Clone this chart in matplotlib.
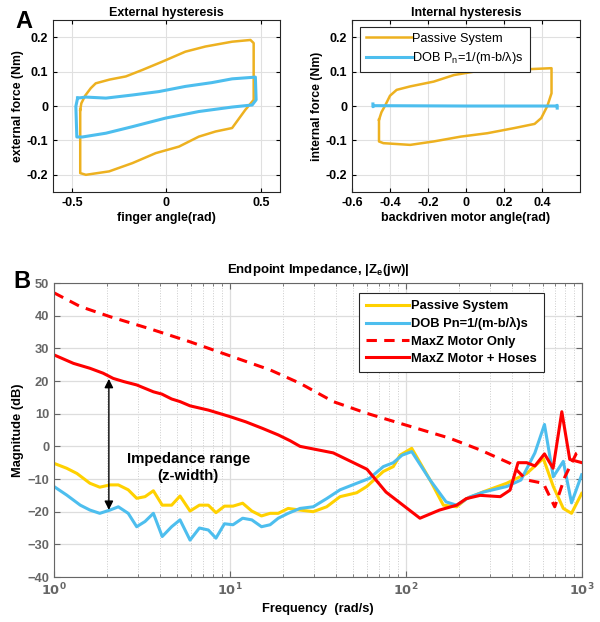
import matplotlib.pyplot as plt

plt.rcParams['font.family'] = ['Liberation Sans', 'DejaVu Sans']
plt.rcParams['font.weight'] = 'bold'

ORANGE = '#EDB120'
BLUE = '#4DBEEE'
YELLOW = '#FFD100'
RED = '#FF0000'

# --- A: hysteresis loops (angle rad, force Nm) ---
ext_passive_x = [-0.456, -0.45, -0.43, -0.40, -0.374, -0.30, -0.215, -0.127, -0.022, 0.10, 0.206,
                 0.347, 0.444, 0.461, 0.461, 0.417, 0.347, 0.26, 0.171, 0.066, -0.057, -0.18,
                 -0.303, -0.426, -0.456, -0.456]
ext_passive_y = [-0.011, 0.008, 0.03, 0.052, 0.066, 0.077, 0.086, 0.105, 0.129, 0.158, 0.173,
                 0.187, 0.192, 0.183, 0.018, -0.011, -0.064, -0.074, -0.089, -0.118, -0.137, -0.166,
                 -0.19, -0.20, -0.195, -0.011]
ext_dob_x = [-0.47, -0.426, -0.32, -0.18, -0.04, 0.10, 0.24, 0.347, 0.47, 0.474, 0.453,
             0.347, 0.171, -0.004, -0.18, -0.32, -0.444, -0.474, -0.479, -0.47]
ext_dob_y = [0.023, 0.026, 0.023, 0.032, 0.042, 0.057, 0.068, 0.079, 0.084, 0.018, 0.003,
             -0.003, -0.016, -0.035, -0.06, -0.079, -0.09, -0.09, -0.001, 0.023]

int_passive_x = [-0.458, -0.445, -0.427, -0.40, -0.365, -0.294, -0.17, -0.064, 0.042, 0.184,
                 0.326, 0.45, 0.45, 0.428, 0.396, 0.361, 0.255, 0.113, -0.028, -0.17, -0.294,
                 -0.435, -0.458, -0.458]
int_passive_y = [-0.04, -0.018, 0.0, 0.03, 0.047, 0.057, 0.071, 0.09, 0.10, 0.105,
                 0.107, 0.11, 0.037, 0.0, -0.035, -0.052, -0.064, -0.079, -0.089, -0.103, -0.113,
                 -0.108, -0.103, -0.04]
int_dob_x = [-0.49, -0.49, -0.48, 0.0, 0.47, 0.48, 0.48]
int_dob_y = [0.006, -0.002, 0.001, 0.0, 0.0, 0.002, -0.006]

# --- B: endpoint impedance (rad/s, dB) ---
f_passive = [1, 1.18, 1.35, 1.6, 1.82, 2.08, 2.32, 2.64, 2.95, 3.29, 3.67, 4.12, 4.66, 5.2, 5.93,
             6.7, 7.53, 8.32, 9.3, 10.4, 11.8, 13.3, 15.1, 16.9, 18.8, 21.4, 25, 29.7, 35.4, 42.2,
             52.5, 59.8, 74.3, 84.7, 92.5, 107.8, 137, 163, 194, 221, 275, 373, 485, 603, 687,
             783, 872, 996]
mag_passive = [-5.2, -6.7, -8.3, -11.3, -12.5, -11.8, -11.8, -13.3, -15.9, -15.4, -13.6, -18.0,
               -18.0, -15.2, -19.8, -18.0, -18.0, -20.3, -18.3, -18.3, -17.4, -19.8, -21.3, -20.5,
               -20.5, -19.0, -19.5, -20.0, -18.5, -15.4, -14.2, -12.3, -7.7, -6.2, -2.7, -0.6,
               -10.3, -18.0, -18.5, -16.0, -13.9, -11.3, -8.3, -3.7, -12.3, -19.0, -20.5, -14.4]

f_dob = [1, 1.18, 1.41, 1.6, 1.82, 2.08, 2.32, 2.64, 2.95, 3.29, 3.67, 4.12, 4.66, 5.2, 5.93,
         6.7, 7.53, 8.32, 9.3, 10.4, 11.8, 13.3, 15.1, 16.9, 18.8, 21.4, 25, 29.7, 35.4, 42.2,
         52.5, 62, 74.3, 84.7, 95, 107.8, 137, 169, 194, 230, 275, 373, 450, 540, 612, 687,
         783, 872, 996]
mag_dob = [-12.3, -14.9, -18.0, -19.5, -20.5, -19.5, -18.5, -20.5, -24.6, -23.0, -20.5, -27.6,
           -24.6, -22.5, -28.7, -25.0, -25.6, -28.1, -23.7, -24.0, -22.0, -22.5, -24.6, -24.0,
           -22.0, -20.5, -19.0, -18.5, -16.0, -13.3, -11.3, -9.8, -6.2, -5.0, -2.7, -1.6,
           -10.3, -17.0, -18.0, -15.5, -14.0, -12.3, -10.3, -2.0, 6.7, -9.3, -4.6, -17.3, -8.7]

f_motor = [1, 1.41, 2.08, 3.5, 5.93, 10, 16.9, 25, 38.6, 60, 100, 177, 264, 390, 485, 603,
           700, 800, 930, 1000]
mag_motor = [47.0, 42.8, 39.7, 36.0, 32.0, 27.7, 23.4, 19.3, 13.7, 10.1, 6.5, 2.5, -1.1, -5.2,
             -10.3, -11.3, -18.5, -9.3, -2.1, -1.1]

f_hoses = [1, 1.29, 1.6, 1.9, 2.17, 2.5, 2.95, 3.67, 4.1, 4.66, 5.2, 5.93, 7.53, 10, 12.3, 15.3,
           18.8, 22, 25, 38.6, 60, 77, 120, 155, 194, 220, 264, 343, 390, 433, 485, 540, 612,
           685, 768, 852, 1000]
mag_hoses = [28.0, 25.4, 23.9, 22.4, 20.8, 19.8, 18.8, 16.7, 16.0, 14.5, 13.7, 12.4, 11.1, 9.1,
             7.5, 5.5, 3.5, 1.7, 0.0, -2.0, -7.0, -14.0, -22.0, -19.5, -18.0, -16.0, -15.0, -15.4,
             -13.4, -5.0, -5.0, -6.0, -2.3, -6.7, 10.6, -4.0, -5.0]

fig = plt.figure(figsize=(6, 6.22), dpi=100)

def style_top(ax):
    ax.grid(True, color='#e0e0e0', linewidth=0.8)
    ax.set_axisbelow(True)
    ax.tick_params(labelsize=9, length=3, direction='in', top=True, right=True)
    for s in ax.spines.values():
        s.set_color('#262626')

ax1 = fig.add_axes([0.0883, 0.6913, 0.3783, 0.2765])
ax1.plot(ext_passive_x, ext_passive_y, color=ORANGE, lw=1.8)
ax1.plot(ext_dob_x, ext_dob_y, color=BLUE, lw=2.2)
ax1.set_xlim(-0.6, 0.6)
ax1.set_ylim(-0.25, 0.25)
ax1.set_xticks([-0.5, 0, 0.5])
ax1.set_xticklabels(['-0.5', '0', '0.5'])
ax1.set_yticks([-0.2, -0.1, 0, 0.1, 0.2])
ax1.set_yticklabels(['-0.2', '-0.1', '0', '0.1', '0.2'])
ax1.set_title('External hysteresis', fontsize=9, fontweight='bold', pad=3)
ax1.set_xlabel('finger angle(rad)', fontsize=9, fontweight='bold', labelpad=2)
ax1.set_ylabel('external force (Nm)', fontsize=8.8, fontweight='bold', labelpad=2)
style_top(ax1)

ax2 = fig.add_axes([0.5867, 0.6913, 0.38, 0.2765])
ax2.plot(int_passive_x, int_passive_y, color=ORANGE, lw=1.8, label='Passive System')
ax2.plot(int_dob_x, int_dob_y, color=BLUE, lw=2.2, label=r'DOB P$_\mathregular{n}$=1/(m-b/λ)s')
ax2.set_xlim(-0.6, 0.6)
ax2.set_ylim(-0.25, 0.25)
ax2.set_xticks([-0.6, -0.4, -0.2, 0, 0.2, 0.4])
ax2.set_xticklabels(['-0.6', '-0.4', '-0.2', '0', '0.2', '0.4'])
ax2.set_yticks([-0.2, -0.1, 0, 0.1, 0.2])
ax2.set_yticklabels(['-0.2', '-0.1', '0', '0.1', '0.2'])
ax2.set_title('Internal hysteresis', fontsize=9, fontweight='bold', pad=3)
ax2.set_xlabel('backdriven motor angle(rad)', fontsize=9, fontweight='bold', labelpad=2)
ax2.set_ylabel('internal force (Nm)', fontsize=8.8, fontweight='bold', labelpad=2)
style_top(ax2)
leg2 = ax2.legend(loc='upper left', bbox_to_anchor=(0.035, 0.96), fancybox=False,
                  edgecolor='#262626', framealpha=1, handlelength=3.6, handletextpad=0.05,
                  borderpad=0.45, labelspacing=0.45, borderaxespad=0.0,
                  prop={'weight': 'normal', 'size': 9.2})
leg2.get_frame().set_linewidth(0.8)

ax3 = fig.add_axes([0.09, 0.0723, 0.88, 0.4727])
ax3.semilogx(f_passive, mag_passive, color=YELLOW, lw=2.2, label='Passive System')
ax3.semilogx(f_dob, mag_dob, color=BLUE, lw=2.2, label='DOB Pn=1/(m-b/λ)s')
ax3.semilogx(f_motor, mag_motor, color=RED, lw=2.2, ls=(0, (3.4, 2.4)), label='MaxZ Motor Only')
ax3.semilogx(f_hoses, mag_hoses, color=RED, lw=2.2, label='MaxZ Motor + Hoses')
ax3.set_xlim(1, 1000)
ax3.set_ylim(-40, 50)
ax3.set_yticks(range(-40, 51, 10))
ax3.set_xticks([1, 10, 100, 1000])
ax3.set_xticklabels([r'$\mathbf{10^{0}}$', r'$\mathbf{10^{1}}$', r'$\mathbf{10^{2}}$', r'$\mathbf{10^{3}}$'])
ax3.grid(True, which='major', color='#dddddd', linewidth=0.9)
ax3.grid(True, which='minor', axis='x', color='#cccccc', linewidth=0.7, linestyle=':')
ax3.set_axisbelow(True)
ax3.tick_params(which='both', labelsize=9.3, labelcolor='#666666', color='#666666',
                direction='in', top=True, right=True)
ax3.tick_params(which='major', length=4)
ax3.tick_params(which='minor', length=2)
for s in ax3.spines.values():
    s.set_color('#666666')
ax3.set_title('Endpoint Impedance, |Z$_\\mathregular{e}$(jw)|', fontsize=9.5, fontweight='bold', pad=7)
ax3.set_xlabel('Frequency  (rad/s)', fontsize=9.3, fontweight='bold', labelpad=3)
ax3.set_ylabel('Magnitude (dB)', fontsize=9.3, fontweight='bold', labelpad=2)
leg3 = ax3.legend(loc='upper left', bbox_to_anchor=(0.578, 0.966), fancybox=False,
                  edgecolor='#262626', framealpha=1, handlelength=3.3, handletextpad=0.2,
                  borderpad=0.55, labelspacing=0.4, borderaxespad=0.0,
                  prop={'weight': 'bold', 'size': 9.3})
leg3.get_frame().set_linewidth(0.8)

ax3.annotate('', xy=(2.05, -20.3), xytext=(2.05, 21.5),
             arrowprops=dict(arrowstyle='<|-|>', color='black', lw=1.0, mutation_scale=13))
ax3.text(5.8, -6.5, 'Impedance range\n(z-width)', fontsize=10.8, fontweight='bold',
         ha='center', va='center', linespacing=1.3)

fig.text(0.04, 0.965, 'A', fontsize=17, fontweight='bold', ha='center', va='center')
fig.text(0.036, 0.547, 'B', fontsize=17, fontweight='bold', ha='center', va='center')

fig.savefig('out.png', dpi=100)
